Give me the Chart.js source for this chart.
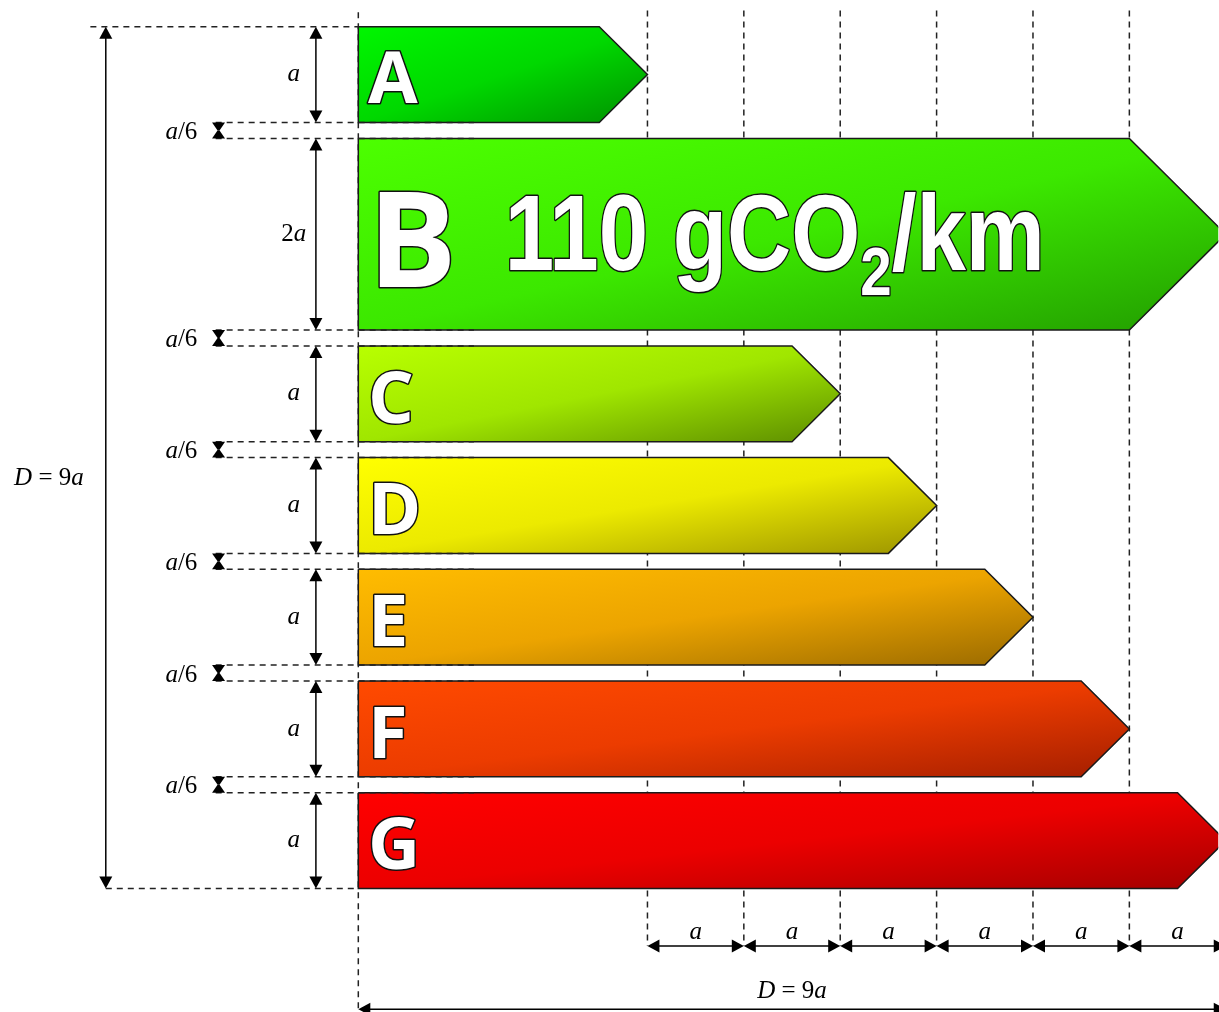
<!DOCTYPE html>
<html>
<head>
<meta charset="utf-8">
<script src="https://cdn.jsdelivr.net/npm/chart.js@4.4.1/dist/chart.umd.min.js"></script>
<style>
body { margin: 0; background: #fff; }
canvas { display: block; }
</style>
</head>
<body>
<canvas id="chart" width="1219" height="1012"></canvas>
<script>
// Clases de eficiencia (medidas en unidades de a)
const grades = ['A', 'B', 'C', 'D', 'E', 'F', 'G'];
const barLengths = [3, 9, 5, 6, 7, 8, 9];
const barHeights = [1, 2, 1, 1, 1, 1, 1];
const gapHeight = 1 / 6;
const heightLabels = ['a', '2a', 'a', 'a', 'a', 'a', 'a'];
const widthMarks = [3, 4, 5, 6, 7, 8, 9];
const totalSize = 9;
const lightColors = ['#00f600', '#4cff00', '#b8ff00', '#ffff00', '#ffbc00', '#ff4a00', '#ff0000'];
const midColors = ['#00d800', '#3ce800', '#a0e600', '#ecea00', '#eca400', '#ec3c00', '#ec0000'];
const darkColors = ['#009000', '#229c00', '#5c8c00', '#9c9400', '#9a6a00', '#a41e00', '#a40000'];
const bigLabel = ['110 gCO', '2', '/km'];

// Posición vertical de cada barra
const tops = [];
let acc = 0;
barHeights.forEach(h => { tops.push(acc); acc += h + gapHeight; });

function arrowShape(i) {
    const t = tops[i], h = barHeights[i], L = barLengths[i], tip = h / 2;
    return [
        { x: 0, y: t }, { x: L - tip, y: t }, { x: L, y: t + h / 2 },
        { x: L - tip, y: t + h }, { x: 0, y: t + h }, { x: 0, y: t }
    ];
}

// Degradado diagonal dentro del rectángulo de la barra
function barGradient(chart, i) {
    const xs = chart.scales.x, ys = chart.scales.y;
    if (!xs || !ys) return lightColors[i];
    const x0 = xs.getPixelForValue(0), x1 = xs.getPixelForValue(barLengths[i]);
    const y0 = ys.getPixelForValue(tops[i]), y1 = ys.getPixelForValue(tops[i] + barHeights[i]);
    const W = x1 - x0, H = y1 - y0;
    if (![x0, x1, y0, y1].every(Number.isFinite) || W <= 0 || H <= 0) return lightColors[i];
    const t = 2 / (1 / (W * W) + 1 / (H * H));
    const g = chart.ctx.createLinearGradient(x0, y0, x0 + t / W, y0 + t / H);
    g.addColorStop(0, lightColors[i]);
    g.addColorStop(0.5, midColors[i]);
    g.addColorStop(1, darkColors[i]);
    return g;
}

const SERIF = '"Liberation Serif", "Times New Roman", serif';

function mixedText(ctx, parts, x, y, align) {
    let total = 0;
    const widths = parts.map(([txt, it]) => {
        ctx.font = (it ? 'italic ' : '') + '25px ' + SERIF;
        const w = ctx.measureText(txt).width;
        total += w;
        return w;
    });
    let cx = align === 'right' ? x - total : align === 'center' ? x - total / 2 : x;
    ctx.textBaseline = 'middle';
    ctx.textAlign = 'left';
    ctx.fillStyle = '#000';
    parts.forEach(([txt, it], k) => {
        ctx.font = (it ? 'italic ' : '') + '25px ' + SERIF;
        ctx.fillText(txt, cx, y);
        cx += widths[k];
    });
}

function head(ctx, x, y, dx, dy) {
    const len = 12, hw = 6.5;
    ctx.beginPath();
    ctx.moveTo(x, y);
    ctx.lineTo(x - dx * len - dy * hw, y - dy * len + dx * hw);
    ctx.lineTo(x - dx * len + dy * hw, y - dy * len - dx * hw);
    ctx.closePath();
    ctx.fill();
}

function dimLine(ctx, x1, y1, x2, y2) {
    const L = Math.hypot(x2 - x1, y2 - y1);
    const dx = (x2 - x1) / L, dy = (y2 - y1) / L;
    ctx.beginPath();
    ctx.moveTo(x1 + dx * 6, y1 + dy * 6);
    ctx.lineTo(x2 - dx * 6, y2 - dy * 6);
    ctx.stroke();
    head(ctx, x2, y2, dx, dy);
    head(ctx, x1, y1, -dx, -dy);
}

function dashed(ctx, x1, y1, x2, y2) {
    ctx.save();
    ctx.setLineDash([6, 5]);
    ctx.lineWidth = 1.5;
    ctx.strokeStyle = '#222';
    ctx.beginPath();
    ctx.moveTo(x1, y1);
    ctx.lineTo(x2, y2);
    ctx.stroke();
    ctx.restore();
}

function outlined(ctx, txt, x, y) {
    ctx.lineJoin = 'round';
    ctx.lineWidth = 3;
    ctx.strokeStyle = '#111';
    ctx.strokeText(txt, x, y);
    ctx.fillStyle = '#fff';
    ctx.fillText(txt, x, y);
}

// Líneas guía verticales, detrás de las barras
const guidesPlugin = {
    id: 'guides',
    beforeDatasetsDraw(chart) {
        const ctx = chart.ctx, px = v => chart.scales.x.getPixelForValue(v), py = v => chart.scales.y.getPixelForValue(v);
        dashed(ctx, px(0), py(-0.15), px(0), py(10.3));
        widthMarks.slice(0, -1).forEach(m => dashed(ctx, px(m), py(-0.17), px(m), py(9.6)));
    }
};

// Cotas, textos y letras
const labelsPlugin = {
    id: 'labels',
    afterDatasetsDraw(chart) {
        const ctx = chart.ctx, px = v => chart.scales.x.getPixelForValue(v), py = v => chart.scales.y.getPixelForValue(v);
        ctx.save();
        ctx.fillStyle = '#000';
        ctx.strokeStyle = '#000';
        ctx.lineWidth = 1.5;

        // Líneas de referencia horizontales
        dashed(ctx, px(-2.78), py(0), px(0), py(0));
        dashed(ctx, px(-2.62), py(totalSize), px(0), py(totalSize));
        grades.forEach((g, i) => {
            if (i < grades.length - 1) {
                const yb = tops[i] + barHeights[i], yn = tops[i + 1];
                dashed(ctx, px(-1.48), py(yb), px(1.2), py(yb));
                dashed(ctx, px(-1.48), py(yn), px(1.2), py(yn));
                // cota del hueco a/6
                const xg = px(-1.45), ya = py(yb), yc = py(yn), ym = (ya + yc) / 2;
                ctx.fillStyle = '#000';
                ctx.beginPath();
                ctx.moveTo(xg - 6.5, ya); ctx.lineTo(xg + 6.5, ya); ctx.lineTo(xg + 1, ym); ctx.lineTo(xg - 1, ym);
                ctx.closePath(); ctx.fill();
                ctx.beginPath();
                ctx.moveTo(xg - 6.5, yc); ctx.lineTo(xg + 6.5, yc); ctx.lineTo(xg + 1, ym); ctx.lineTo(xg - 1, ym);
                ctx.closePath(); ctx.fill();
                mixedText(ctx, [['a', true], ['/6', false]], px(-1.67), ym + 2, 'right');
            }
            // cota de altura de cada barra
            ctx.lineWidth = 1.5;
            ctx.strokeStyle = '#000';
            ctx.fillStyle = '#000';
            dimLine(ctx, px(-0.44), py(tops[i]), px(-0.44), py(tops[i] + barHeights[i]));
            const lbl = heightLabels[i];
            const parts = lbl.length > 1 ? [[lbl.slice(0, -1), false], ['a', true]] : [['a', true]];
            mixedText(ctx, parts, px(-0.67), py(tops[i] + barHeights[i] / 2), 'center');
        });

        // Cota total vertical
        dimLine(ctx, px(-2.62), py(0), px(-2.62), py(totalSize));
        mixedText(ctx, [['D', true], [' = 9', false], ['a', true]], px(-3.21), py(4.72), 'center');

        // Cotas horizontales inferiores
        for (let k = 0; k < widthMarks.length - 1; k++) {
            dimLine(ctx, px(widthMarks[k]), py(9.6), px(widthMarks[k + 1]), py(9.6));
            mixedText(ctx, [['a', true]], px((widthMarks[k] + widthMarks[k + 1]) / 2), py(9.46), 'center');
        }
        dimLine(ctx, px(0), py(10.26), px(totalSize), py(10.26));
        mixedText(ctx, [['D', true], [' = 9', false], ['a', true]], px(totalSize / 2), py(10.07), 'center');

        // Letras de las clases
        ctx.textAlign = 'left';
        ctx.textBaseline = 'alphabetic';
        grades.forEach((g, i) => {
            const big = barHeights[i] > 1;
            const size = big ? 132 : 72;
            ctx.font = 'bold ' + size + 'px "Open Sans", "DejaVu Sans", sans-serif';
            const yc = py(tops[i] + barHeights[i] / 2) + size * 0.4;
            outlined(ctx, g, px(big ? 0.1 : 0.1), yc);
        });

        // Texto de emisiones en la barra B
        const narrow = '"Liberation Sans Narrow", "Liberation Sans", Arial, sans-serif';
        const fMain = 'bold 107px ' + narrow, fSub = 'bold 68px ' + narrow;
        ctx.font = fMain; const w0 = ctx.measureText(bigLabel[0]).width, w2 = ctx.measureText(bigLabel[2]).width;
        ctx.font = fSub; const w1 = ctx.measureText(bigLabel[1]).width;
        const sx = 540 / (w0 + w1 + w2);
        const bx = px(1.52), by = py(tops[1] + barHeights[1] / 2) + 36;
        ctx.save();
        ctx.translate(bx, by);
        ctx.scale(sx, 1);
        ctx.font = fMain; outlined(ctx, bigLabel[0], 0, 0);
        ctx.font = fSub; outlined(ctx, bigLabel[1], w0, 25);
        ctx.font = fMain; outlined(ctx, bigLabel[2], w0 + w1, 0);
        ctx.restore();

        ctx.restore();
    }
};

const chart = new Chart(document.getElementById('chart'), {
    type: 'scatter',
    data: {
        datasets: grades.map((g, i) => ({
            label: g,
            data: arrowShape(i),
            showLine: true,
            fill: 'shape',
            backgroundColor: ctx => barGradient(ctx.chart, i),
            borderColor: '#1a1a1a',
            borderWidth: 1.5,
            borderJoinStyle: 'miter',
            pointRadius: 0,
            tension: 0
        }))
    },
    options: {
        responsive: false,
        animation: false,
        devicePixelRatio: 1,
        events: [],
        layout: { padding: 0 },
        plugins: { legend: { display: false }, tooltip: { enabled: false } },
        scales: {
            x: { type: 'linear', min: -358 / 96.5, max: (1219 - 358) / 96.5, display: false },
            y: { type: 'linear', min: -26 / 95.9, max: (1012 - 26) / 95.9, reverse: true, display: false }
        }
    },
    plugins: [guidesPlugin, labelsPlugin]
});
// segunda pasada para que los degradados usen las escalas ya calculadas
chart.update();
</script>
</body>
</html>
